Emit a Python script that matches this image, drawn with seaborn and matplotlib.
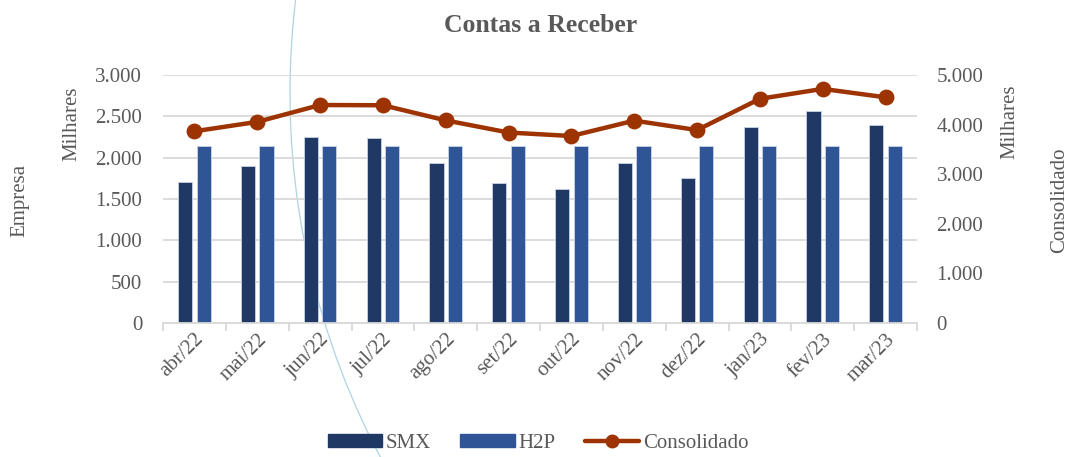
import numpy as np
import pandas as pd
import matplotlib
matplotlib.use("Agg")
import matplotlib.pyplot as plt
import seaborn as sns
from matplotlib.patches import Patch, Arc
from matplotlib.lines import Line2D
from matplotlib.ticker import FuncFormatter, MultipleLocator, FixedLocator

months = ["abr/22", "mai/22", "jun/22", "jul/22", "ago/22", "set/22",
          "out/22", "nov/22", "dez/22", "jan/23", "fev/23", "mar/23"]
smx = [1710, 1905, 2250, 2235, 1940, 1690, 1625, 1935, 1750, 2370, 2570, 2400]
h2p = [2145, 2145, 2145, 2145, 2145, 2145, 2145, 2145, 2145, 2145, 2145, 2145]
consolidado = [3865, 4055, 4395, 4390, 4085, 3840, 3770, 4080, 3890, 4520, 4720, 4550]

series_names = ["SMX", "H2P"]
c_smx = "#203864"
c_h2p = "#2F5597"
c_line = "#9C3300"
gray = "#595959"
fs = 15

sns.set_theme(style="white")
plt.rcParams['font.family'] = ['Liberation Serif', 'DejaVu Serif']

df = pd.DataFrame({
    "mes": months * 2,
    "serie": [series_names[0]] * len(months) + [series_names[1]] * len(months),
    "valor": smx + h2p,
})
dfl = pd.DataFrame({"mes": months, "valor": consolidado})

fig = plt.figure(figsize=(10.7, 4.57), dpi=100)
ax = fig.add_axes([163 / 1070, 1 - 323 / 457, (917 - 163) / 1070, (323 - 75) / 457])
ax.patch.set_visible(False)

sns.barplot(data=df, x="mes", y="valor", hue="serie", order=months,
            palette=[c_smx, c_h2p], saturation=1, width=0.59, gap=0.24, ax=ax,
            edgecolor="#C9D3E6", linewidth=0.6, legend=False, errorbar=None)

ax.set_ylim(0, 3000)
ax.yaxis.set_major_locator(MultipleLocator(500))
fmt = FuncFormatter(lambda v, p: f"{int(v):,}".replace(",", "."))
ax.yaxis.set_major_formatter(fmt)
ax.grid(axis="y", color="#D9D9D9", linewidth=1.3)
ax.set_axisbelow(True)
for s in ["top", "right", "left"]:
    ax.spines[s].set_visible(False)
ax.spines["bottom"].set_color("#D9D9D9")
ax.spines["bottom"].set_linewidth(1.3)
ax.set_xlim(-0.5, len(months) - 0.5)
ax.set_xlabel("")
ax.set_ylabel("")
ax.tick_params(axis="y", length=0, labelsize=fs, labelcolor=gray, pad=15)
ax.tick_params(axis="x", which="major", length=0, labelsize=fs, labelcolor=gray, pad=5)
ax.xaxis.set_minor_locator(FixedLocator(np.arange(-0.5, len(months), 1.0)))
ax.tick_params(axis="x", which="minor", length=6, width=1.3, color="#D9D9D9", bottom=True)
for lbl in ax.get_xticklabels():
    lbl.set_rotation(45)
    lbl.set_ha("right")
    lbl.set_rotation_mode("anchor")

ax2 = ax.twinx()
ax2.patch.set_visible(False)
sns.pointplot(data=dfl, x="mes", y="valor", order=months, color=c_line,
              markers="o", linestyles="-", ax=ax2, errorbar=None,
              linewidth=3.2, markersize=9)
ax2.set_ylim(0, 5000)
ax2.set_xlim(-0.5, len(months) - 0.5)
ax2.yaxis.set_major_locator(MultipleLocator(1000))
ax2.yaxis.set_major_formatter(fmt)
ax2.tick_params(axis="y", length=0, labelsize=fs, labelcolor=gray, pad=14)
ax2.set_ylabel("")
ax2.set_xlabel("")
for s in ["top", "right", "left", "bottom"]:
    ax2.spines[s].set_visible(False)
ax2.grid(False)

fig.text(0.505, 1 - 25 / 457, "Contas a Receber", ha="center", va="center",
         fontsize=18.5, fontweight="bold", color=gray)
fig.text(72 / 1070, 1 - 124 / 457, "Milhares", rotation=90, ha="center", va="center",
         fontsize=fs, color=gray)
fig.text(20 / 1070, 1 - 200 / 457, "Empresa", rotation=90, ha="center", va="center",
         fontsize=fs, color=gray)
fig.text(1010 / 1070, 1 - 122 / 457, "Milhares", rotation=90, ha="center", va="center",
         fontsize=fs, color=gray)
fig.text(1060 / 1070, 1 - 200 / 457, "Consolidado", rotation=90, ha="center", va="center",
         fontsize=fs, color=gray)

handles = [
    Patch(facecolor=c_smx, edgecolor=c_smx),
    Patch(facecolor=c_h2p, edgecolor=c_h2p),
    Line2D([0], [0], color=c_line, lw=3.2, marker="o", markersize=9),
]
leg = fig.legend(handles, series_names + ["Consolidado"], loc="center",
                 bbox_to_anchor=(0.503, 1 - 443 / 457), ncol=3, frameon=False,
                 fontsize=fs, handlelength=2.6, handleheight=0.6,
                 handletextpad=0.2, columnspacing=1.4, labelcolor=gray)

# decorative background arc present in the source image (behind the chart)
arc = Arc((1069, 457 - 93), 1558, 1558, theta1=150, theta2=215,
          transform=None, color="#AFD3E2", linewidth=0.9, zorder=-1)
fig.add_artist(arc)

fig.savefig("out.png", dpi=100)
